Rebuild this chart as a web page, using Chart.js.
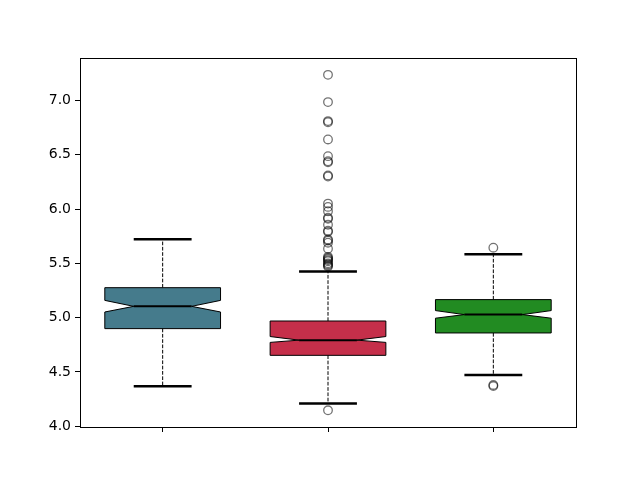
<!DOCTYPE html>
<html>
<head>
<meta charset="utf-8">
<script src="https://cdn.jsdelivr.net/npm/chart.js@4"></script>
<style>
  html, body { margin: 0; padding: 0; background: #fff; }
  #wrap { width: 640px; height: 480px; }
</style>
</head>
<body>
<div id="wrap"><canvas id="chart" width="640" height="480"></canvas></div>
<script>
        // Box statistics per group
        const positions = [1, 2, 3];
        const boxColors = ['#457b8c', '#c52f4a', '#228b22'];
        const whiskerLow = [4.368, 4.209, 4.471];
        const q1 = [4.899, 4.653, 4.859];
        const median = [5.104, 4.793, 5.028];
        const q3 = [5.276, 4.969, 5.166];
        const whiskerHigh = [5.721, 5.426, 5.583];
        const notchLow = [5.052, 4.772, 4.995];
        const notchHigh = [5.159, 4.826, 5.065];

        // Fliers for each group
        const fliers1 = [];
        const fliers2 = [4.147, 5.47, 5.48, 5.49, 5.50, 5.52, 5.53, 5.54, 5.55, 5.56,
            5.635, 5.69, 5.71, 5.72, 5.79, 5.80, 5.856, 5.91, 5.92, 5.98, 6.02, 6.05,
            6.30, 6.31, 6.43, 6.44, 6.487, 6.641, 6.80, 6.81, 6.985, 7.236];
        const fliers3 = [4.37, 4.38, 5.644];

        const yTicks = [4.0, 4.5, 5.0, 5.5, 6.0, 6.5, 7.0];
        const yMin = 3.993;
        const yMax = 7.391;

        const fliers = [];
        [fliers1, fliers2, fliers3].forEach((list, i) => {
            list.forEach(v => fliers.push({ x: positions[i], y: v }));
        });

        const boxWidth = 0.7;

        const boxPlugin = {
            id: 'boxes',
            beforeDatasetsDraw(chart) {
                const ctx = chart.ctx;
                const xs = chart.scales.x;
                const ys = chart.scales.y;
                const area = chart.chartArea;
                ctx.save();
                ctx.beginPath();
                ctx.rect(area.left, area.top, area.right - area.left, area.bottom - area.top);
                ctx.clip();
                for (let i = 0; i < positions.length; i++) {
                    const p = positions[i];
                    const L = xs.getPixelForValue(p - boxWidth / 2);
                    const R = xs.getPixelForValue(p + boxWidth / 2);
                    const CL = xs.getPixelForValue(p - boxWidth / 4);
                    const CR = xs.getPixelForValue(p + boxWidth / 4);
                    const C = xs.getPixelForValue(p);
                    const yq1 = ys.getPixelForValue(q1[i]);
                    const yq3 = ys.getPixelForValue(q3[i]);
                    const ymed = ys.getPixelForValue(median[i]);
                    const ynl = ys.getPixelForValue(notchLow[i]);
                    const ynh = ys.getPixelForValue(notchHigh[i]);
                    const ywl = ys.getPixelForValue(whiskerLow[i]);
                    const ywh = ys.getPixelForValue(whiskerHigh[i]);

                    // whiskers
                    ctx.strokeStyle = '#000';
                    ctx.lineWidth = 1;
                    ctx.setLineDash([3.7, 1.6]);
                    ctx.beginPath();
                    ctx.moveTo(C, yq1); ctx.lineTo(C, ywl);
                    ctx.moveTo(C, yq3); ctx.lineTo(C, ywh);
                    ctx.stroke();
                    ctx.setLineDash([]);

                    // caps
                    ctx.lineWidth = 2.5;
                    ctx.beginPath();
                    ctx.moveTo(CL, ywl); ctx.lineTo(CR, ywl);
                    ctx.moveTo(CL, ywh); ctx.lineTo(CR, ywh);
                    ctx.stroke();

                    // notched box
                    ctx.beginPath();
                    ctx.moveTo(L, yq1);
                    ctx.lineTo(L, ynl);
                    ctx.lineTo(CL, ymed);
                    ctx.lineTo(L, ynh);
                    ctx.lineTo(L, yq3);
                    ctx.lineTo(R, yq3);
                    ctx.lineTo(R, ynh);
                    ctx.lineTo(CR, ymed);
                    ctx.lineTo(R, ynl);
                    ctx.lineTo(R, yq1);
                    ctx.closePath();
                    ctx.fillStyle = boxColors[i];
                    ctx.fill();
                    ctx.lineWidth = 1;
                    ctx.strokeStyle = '#000';
                    ctx.stroke();

                    // median
                    ctx.lineWidth = 2;
                    ctx.beginPath();
                    ctx.moveTo(CL, ymed); ctx.lineTo(CR, ymed);
                    ctx.stroke();
                }
                ctx.restore();
            },
            afterDraw(chart) {
                const ctx = chart.ctx;
                const a = chart.chartArea;
                ctx.save();
                ctx.strokeStyle = '#000';
                ctx.lineWidth = 1;
                ctx.strokeRect(Math.round(a.left) + 0.5, Math.round(a.top) + 0.5,
                    Math.round(a.right - a.left), Math.round(a.bottom - a.top));
                ctx.restore();
            }
        };

        new Chart(document.getElementById('chart').getContext('2d'), {
            type: 'scatter',
            data: {
                datasets: [{
                    label: 'fliers',
                    data: fliers,
                    pointRadius: 4.3,
                    pointHoverRadius: 4.3,
                    pointBackgroundColor: 'rgba(0,0,0,0)',
                    pointBorderColor: 'rgba(0,0,0,0.55)',
                    pointBorderWidth: 1.3
                }]
            },
            options: {
                responsive: false,
                animation: false,
                events: [],
                layout: {
                    padding: { left: 0, top: 58, right: 64, bottom: 0 }
                },
                plugins: {
                    legend: { display: false },
                    tooltip: { enabled: false }
                },
                scales: {
                    x: {
                        type: 'linear',
                        min: 0.5,
                        max: 3.5,
                        afterBuildTicks: (scale) => {
                            scale.ticks = positions.map(v => ({ value: v }));
                        },
                        afterFit: (scale) => { scale.height = 53; },
                        ticks: {
                            callback: () => '',
                            color: '#000'
                        },
                        grid: {
                            drawOnChartArea: false,
                            drawTicks: true,
                            tickLength: 5,
                            color: '#000'
                        },
                        border: { display: false }
                    },
                    y: {
                        min: yMin,
                        max: yMax,
                        afterBuildTicks: (scale) => {
                            scale.ticks = yTicks.map(v => ({ value: v }));
                        },
                        afterFit: (scale) => { scale.width = 80; },
                        ticks: {
                            callback: (v) => Number(v).toFixed(1),
                            color: '#000',
                            padding: 4,
                            font: { family: 'DejaVu Sans', size: 14 }
                        },
                        grid: {
                            drawOnChartArea: false,
                            drawTicks: true,
                            tickLength: 5,
                            color: '#000'
                        },
                        border: { display: false }
                    }
                }
            },
            plugins: [boxPlugin]
        });
</script>
</body>
</html>
